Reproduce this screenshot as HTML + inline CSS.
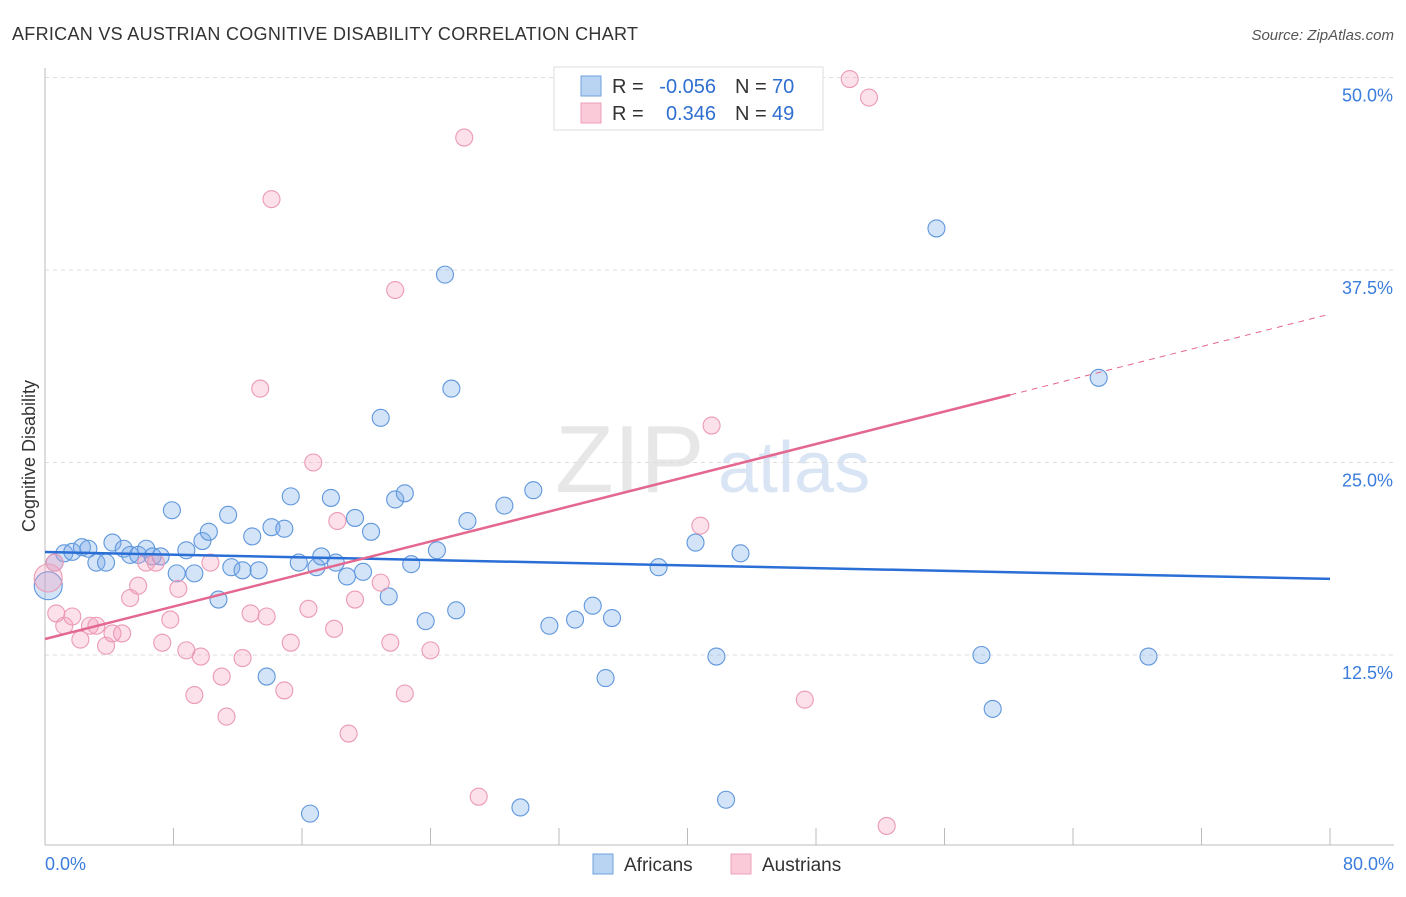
<!DOCTYPE html>
<html><head><meta charset="utf-8"><style>
body{margin:0;background:#fff;font-family:"Liberation Sans",sans-serif;}
svg text{font-family:"Liberation Sans",sans-serif;}
</style></head><body>
<svg id="chart" width="1406" height="892" xmlns="http://www.w3.org/2000/svg">
<text x="12" y="40" font-size="18" fill="#333" textLength="626">AFRICAN VS AUSTRIAN COGNITIVE DISABILITY CORRELATION CHART</text>
<text x="1394" y="40" font-size="15" fill="#555" font-style="italic" text-anchor="end">Source: ZipAtlas.com</text>
<text x="35" y="456" font-size="18" fill="#333" text-anchor="middle" transform="rotate(-90 35 456)">Cognitive Disability</text>
<g><text x="555" y="492" font-size="96" fill="#ddd" font-family="Liberation Serif" opacity="0.7">ZIP</text><text x="718" y="492" font-size="72" fill="#c9daf0" opacity="0.7">atlas</text></g>
<g id="grid"></g><g id="axes"></g><g id="marks"></g>
<g>
<rect x="554" y="67" width="269" height="63" fill="#fff" stroke="#ddd"/>
<rect x="581" y="76" width="20" height="20" fill="#b9d3f3" stroke="#6fa0dc"/>
<rect x="581" y="103" width="20" height="20" fill="#fbcad8" stroke="#eda0b8"/>
<text x="612" y="93" font-size="20" fill="#333">R =</text>
<text x="716" y="93" font-size="20" fill="#2f6fd0" text-anchor="end">-0.056</text>
<text x="735" y="93" font-size="20" fill="#333">N =</text>
<text x="772" y="93" font-size="20" fill="#2f6fd0">70</text>
<text x="612" y="120" font-size="20" fill="#333">R =</text>
<text x="716" y="120" font-size="20" fill="#2f6fd0" text-anchor="end">0.346</text>
<text x="735" y="120" font-size="20" fill="#333">N =</text>
<text x="772" y="120" font-size="20" fill="#2f6fd0">49</text>
</g>
<g>
<rect x="593" y="854" width="20" height="20" fill="#b9d3f3" stroke="#6fa0dc"/>
<text x="624" y="871" font-size="19" fill="#333">Africans</text>
<rect x="731" y="854" width="20" height="20" fill="#fbcad8" stroke="#eda0b8"/>
<text x="762" y="871" font-size="19" fill="#333">Austrians</text>
</g>
</svg>
<script>
const yTicks=[12.5,25,37.5,50];
const yTickLabels=["12.5%","25.0%","37.5%","50.0%"];
const xTicks=[0,8,16,24,32,40,48,56,64,72,80];
const africansX=[0.2,0.6,1.2,1.7,2.3,2.7,3.2,3.8,4.2,4.9,5.3,5.8,6.3,6.7,7.2,7.9,8.2,8.8,9.3,9.8,10.2,10.8,11.4,11.6,12.3,12.9,13.3,13.8,14.1,14.9,15.3,15.8,16.5,16.9,17.2,17.8,18.1,18.8,19.3,19.8,20.3,20.9,21.4,21.8,22.4,22.8,23.7,24.4,24.9,25.3,25.6,26.3,28.6,29.6,30.4,31.4,33.0,34.1,34.9,35.3,38.2,40.5,41.8,42.4,43.3,55.5,58.3,59.0,65.6,68.7];
const africansY=[17.0,18.5,19.1,19.2,19.5,19.4,18.5,18.5,19.8,19.4,19.0,19.0,19.4,18.9,18.9,21.9,17.8,19.3,17.8,19.9,20.5,16.1,21.6,18.2,18.0,20.2,18.0,11.1,20.8,20.7,22.8,18.5,2.2,18.2,18.9,22.7,18.5,17.6,21.4,17.9,20.5,27.9,16.3,22.6,23.0,18.4,14.7,19.3,37.2,29.8,15.4,21.2,22.2,2.6,23.2,14.4,14.8,15.7,11.0,14.9,18.2,19.8,12.4,3.1,19.1,40.2,12.5,9.0,30.5,12.4];
const austriansX=[0.2,0.6,0.7,1.2,1.7,2.2,2.8,3.2,3.8,4.2,4.8,5.3,5.8,6.3,6.9,7.3,7.8,8.3,8.8,9.3,9.7,10.3,11.0,11.3,12.3,12.8,13.8,14.1,13.4,14.9,15.3,16.4,16.7,18.0,18.2,18.9,19.3,20.9,21.5,21.8,22.4,24.0,26.1,27.0,40.8,41.5,47.3,50.1,51.3,52.4];
const austriansY=[17.5,18.5,15.2,14.4,15.0,13.5,14.4,14.4,13.1,13.9,13.9,16.2,17.0,18.5,18.5,13.3,14.8,16.8,12.8,9.9,12.4,18.5,11.1,8.5,12.3,15.2,15.0,42.1,29.8,10.2,13.3,15.5,25.0,14.2,21.2,7.4,16.1,17.2,13.3,36.2,10.0,12.8,46.1,3.3,20.9,27.4,9.6,49.9,48.7,1.4];
const africansTrend=[19.19,17.44];
const austriansTrend=[13.54,34.64];
const austriansSolidEnd=60.1;

const X=v=>45+v/80*1285;
const Y=v=>847.5-v/50*770;
const NS="http://www.w3.org/2000/svg";
function mk(tag,attrs,parent){const e=document.createElementNS(NS,tag);for(const k in attrs)e.setAttribute(k,attrs[k]);parent.appendChild(e);return e;}
const grid=document.getElementById('grid'),axes=document.getElementById('axes'),marks=document.getElementById('marks');
yTicks.forEach((t,i)=>{
  const l=mk('line',{x1:45,x2:1394,y1:Y(t),y2:Y(t),stroke:'#ddd','stroke-dasharray':'4,4'},grid);
  
  
  const tx=mk('text',{x:1393,y:Y(t)+24,'font-size':18,fill:'#3b7ddd','text-anchor':'end'},axes);
  tx.textContent=yTickLabels[i];
  
  
});
let ax=mk('line',{x1:45,x2:45,y1:68,y2:845,stroke:'#bbb'},axes);


ax=mk('line',{x1:45,x2:1394,y1:845,y2:845,stroke:'#bbb'},axes);


xTicks.forEach(t=>{
  const l=mk('line',{x1:X(t),x2:X(t),y1:828,y2:845,stroke:'#bbb'},axes);
  
  
});
let t0=mk('text',{x:45,y:870,'font-size':18,fill:'#3b7ddd'},axes);t0.textContent='0.0%';


let t1=mk('text',{x:1394,y:870,'font-size':18,fill:'#3b7ddd','text-anchor':'end'},axes);t1.textContent='80.0%';



function pts(xs,ys,fill,stroke,name){
  xs.forEach((x,i)=>{
    const big=i===0;
    const c=mk('circle',{cx:X(x),cy:Y(ys[i]),r:big?14:8.5,fill:fill,stroke:stroke,'stroke-width':1.1},marks);
    
    
  });
}
pts(africansX,africansY,'rgba(120,170,235,0.33)','#5f97dc','african-point');
pts(austriansX,austriansY,'rgba(245,160,190,0.33)','#eb9ab5','austrian-point');
const at=(a,x)=>a[0]+(a[1]-a[0])*x/80;
let l=mk('line',{x1:X(0),y1:Y(africansTrend[0]),x2:X(80),y2:Y(africansTrend[1]),stroke:'#2a6fd6','stroke-width':2.5},marks);


l=mk('line',{x1:X(0),y1:Y(austriansTrend[0]),x2:X(austriansSolidEnd),y2:Y(at(austriansTrend,austriansSolidEnd)),stroke:'#e4678f','stroke-width':2.5},marks);


l=mk('line',{x1:X(austriansSolidEnd),y1:Y(at(austriansTrend,austriansSolidEnd)),x2:X(80),y2:Y(austriansTrend[1]),stroke:'#e4678f','stroke-width':1,'stroke-dasharray':'6,5'},marks);


</script>
</body></html>
